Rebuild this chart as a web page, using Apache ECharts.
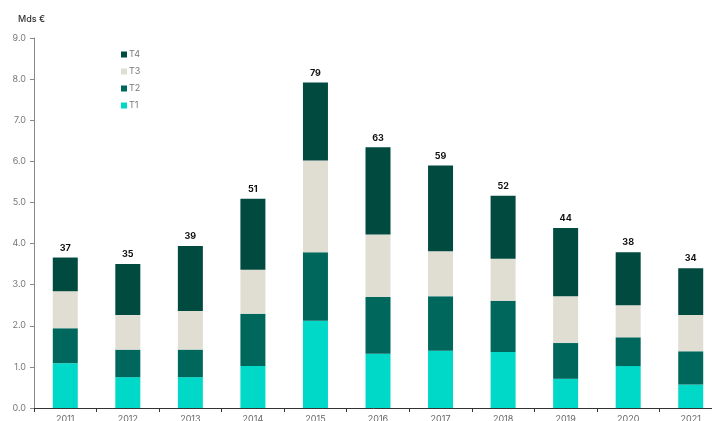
<!DOCTYPE html>
<html><head><meta charset="utf-8">
<script src="https://cdn.jsdelivr.net/npm/echarts@6/dist/echarts.min.js"></script>
<style>html,body{margin:0;padding:0;background:#fff;overflow:hidden}#c{width:712px;height:421px}</style>
</head><body><div id="c"></div>
<script>
const years = ['2011','2012','2013','2014','2015','2016','2017','2018','2019','2020','2021'];
const t1 = [1.09,0.75,0.75,1.02,2.12,1.32,1.39,1.36,0.71,1.02,0.57];
const t2 = [0.85,0.67,0.67,1.27,1.67,1.38,1.33,1.25,0.87,0.70,0.81];
const t3 = [0.90,0.84,0.94,1.07,2.23,1.52,1.09,1.02,1.14,0.78,0.88];
const t4 = [0.82,1.24,1.58,1.73,1.90,2.12,2.09,1.53,1.66,1.29,1.14];
const totalLabels = ['37','35','39','51','79','63','59','52','44','38','34'];

const colors = {T1:'#00D8C8', T2:'#00675D', T3:'#E0DDD3', T4:'#004A40'};
const chart = echarts.init(document.getElementById('c'), null, {renderer:'canvas'});
function ser(name, data, extra) {
  return Object.assign({
    name, type:'bar', stack:'s', data, barWidth:25,
    itemStyle:{color:colors[name]}, emphasis:{disabled:true}
  }, extra || {});
}
chart.setOption({
  animation:false,
  textStyle:{fontFamily:'Inter, Liberation Sans, Arial, sans-serif'},
  title:{text:'Mds €', left:13, top:10, textStyle:{fontSize:9, fontWeight:500, color:'#333'}},
  legend:{
    data:['T4','T3','T2','T1'], orient:'vertical', left:116, top:45,
    itemWidth:6, itemHeight:6, itemGap:8, icon:'rect',
    textStyle:{fontSize:9, color:'#777', padding:[0,0,0,-3]}
  },
  grid:{left:34, top:38, bottom:13, width:688, containLabel:false, outerBoundsMode:'none'},
  xAxis:{
    type:'category', data:years,
    axisLine:{lineStyle:{color:'#333', width:1}},
    axisTick:{show:true, alignWithLabel:false, length:4, lineStyle:{color:'#333'}},
    axisLabel:{fontSize:9, color:'#666', margin:7}
  },
  yAxis:{
    type:'value', min:0, max:9, interval:1,
    axisLine:{show:true, lineStyle:{color:'#888'}},
    axisTick:{show:true, length:4, lineStyle:{color:'#888'}},
    splitLine:{show:false},
    axisLabel:{fontSize:9, color:'#777', margin:8, formatter:v=>v.toFixed(1)}
  },
  series:[
    ser('T1', t1),
    ser('T2', t2),
    ser('T3', t3),
    ser('T4', t4, {label:{show:true, position:'top', distance:5, fontSize:9, fontWeight:'bold', color:'#111',
      formatter:p=>totalLabels[p.dataIndex]}})
  ]
});
</script></body></html>
